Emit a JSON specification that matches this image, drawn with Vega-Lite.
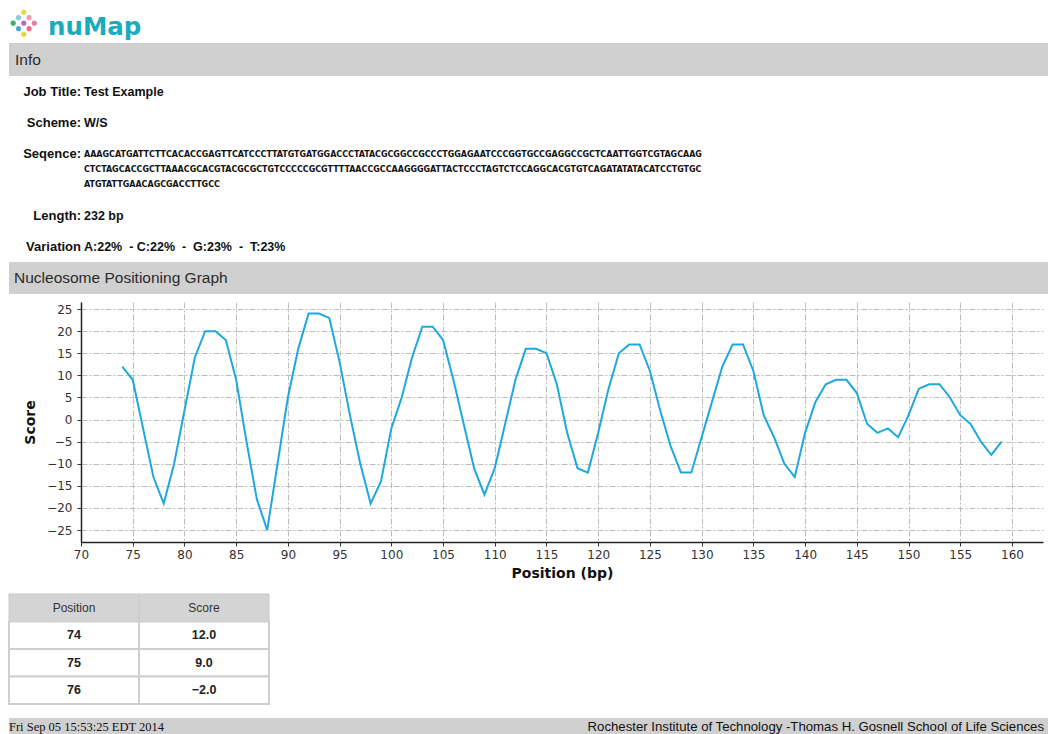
{
  "$schema": "https://vega.github.io/schema/vega-lite/v6.json",
  "background": "white",
  "padding": {"left": 8, "top": 0, "right": 0, "bottom": 0},
  "config": {"view": {"stroke": null}, "font": "Liberation Sans"},
  "datasets": {
    "nps": [
      {"position": 74, "score": 12}, {"position": 75, "score": 9}, {"position": 76, "score": -2},
      {"position": 77, "score": -13}, {"position": 78, "score": -19}, {"position": 79, "score": -10},
      {"position": 80, "score": 2}, {"position": 81, "score": 14}, {"position": 82, "score": 20},
      {"position": 83, "score": 20}, {"position": 84, "score": 18}, {"position": 85, "score": 9},
      {"position": 86, "score": -5}, {"position": 87, "score": -18}, {"position": 88, "score": -25},
      {"position": 89, "score": -10}, {"position": 90, "score": 5}, {"position": 91, "score": 16},
      {"position": 92, "score": 24}, {"position": 93, "score": 24}, {"position": 94, "score": 23},
      {"position": 95, "score": 13}, {"position": 96, "score": 1}, {"position": 97, "score": -10},
      {"position": 98, "score": -19}, {"position": 99, "score": -14}, {"position": 100, "score": -2},
      {"position": 101, "score": 5}, {"position": 102, "score": 14}, {"position": 103, "score": 21},
      {"position": 104, "score": 21}, {"position": 105, "score": 18}, {"position": 106, "score": 9},
      {"position": 107, "score": -1}, {"position": 108, "score": -11}, {"position": 109, "score": -17},
      {"position": 110, "score": -11}, {"position": 111, "score": -1}, {"position": 112, "score": 9},
      {"position": 113, "score": 16}, {"position": 114, "score": 16}, {"position": 115, "score": 15},
      {"position": 116, "score": 8}, {"position": 117, "score": -3}, {"position": 118, "score": -11},
      {"position": 119, "score": -12}, {"position": 120, "score": -3}, {"position": 121, "score": 7},
      {"position": 122, "score": 15}, {"position": 123, "score": 17}, {"position": 124, "score": 17},
      {"position": 125, "score": 11}, {"position": 126, "score": 2}, {"position": 127, "score": -6},
      {"position": 128, "score": -12}, {"position": 129, "score": -12}, {"position": 130, "score": -4},
      {"position": 131, "score": 4}, {"position": 132, "score": 12}, {"position": 133, "score": 17},
      {"position": 134, "score": 17}, {"position": 135, "score": 11}, {"position": 136, "score": 1},
      {"position": 137, "score": -4}, {"position": 138, "score": -10}, {"position": 139, "score": -13},
      {"position": 140, "score": -3}, {"position": 141, "score": 4}, {"position": 142, "score": 8},
      {"position": 143, "score": 9}, {"position": 144, "score": 9}, {"position": 145, "score": 6},
      {"position": 146, "score": -1}, {"position": 147, "score": -3}, {"position": 148, "score": -2},
      {"position": 149, "score": -4}, {"position": 150, "score": 1}, {"position": 151, "score": 7},
      {"position": 152, "score": 8}, {"position": 153, "score": 8}, {"position": 154, "score": 5},
      {"position": 155, "score": 1}, {"position": 156, "score": -1}, {"position": 157, "score": -5},
      {"position": 158, "score": -8}, {"position": 159, "score": -5}
    ],
    "dots": [
      {"col": 2, "row": 0, "k": "a"}, {"col": 1, "row": 1, "k": "b"}, {"col": 3, "row": 1, "k": "c"},
      {"col": 0, "row": 2, "k": "d"}, {"col": 2, "row": 2, "k": "e"}, {"col": 4, "row": 2, "k": "f"},
      {"col": 1, "row": 3, "k": "g"}, {"col": 3, "row": 3, "k": "h"}, {"col": 2, "row": 4, "k": "i"}
    ],
    "info": [
      {"label": "Job Title:", "value": "Test Example"},
      {"label": "Scheme:", "value": "W/S"},
      {"label": "Seqence:", "value": "AAAGCATGATTCTTCACACCGAGTTCATCCCTTATGTGATGGACCCTATACGCGGCCGCCCTGGAGAATCCCGGTGCCGAGGCCGCTCAATTGGTCGTAGCAAG\nCTCTAGCACCGCTTAAACGCACGTACGCGCTGTCCCCCGCGTTTTAACCGCCAAGGGGATTACTCCCTAGTCTCCAGGCACGTGTCAGATATATACATCCTGTGC\nATGTATTGAACAGCGACCTTGCC"},
      {"label": "Length:", "value": "232 bp"},
      {"label": "Variation", "value": "A:22%\u00a0\u00a0- C:22%\u00a0\u00a0-\u00a0\u00a0G:23%\u00a0\u00a0-\u00a0\u00a0T:23%"}
    ]
  },
  "columns": 1,
  "align": "none",
  "spacing": 8,
  "concat": [
    {
      "columns": 1,
      "align": "none",
      "spacing": 0,
      "concat": [
        {
          "spacing": 11,
          "hconcat": [
            {
              "width": 28, "height": 43,
              "data": {"name": "dots"},
              "mark": {"type": "circle", "size": 26, "opacity": 1},
              "encoding": {
                "x": {"field": "col", "type": "quantitative", "scale": {"domain": [-0.8, 4.5], "nice": false, "zero": false}, "axis": null},
                "y": {"field": "row", "type": "quantitative", "scale": {"domain": [-2.2, 5.6], "nice": false, "zero": false, "reverse": true}, "axis": null},
                "color": {"field": "k", "type": "nominal", "legend": null,
                  "scale": {"domain": ["a","b","c","d","e","f","g","h","i"],
                            "range": ["#e4dd3f","#86cde0","#f39bb0","#35b36e","#b46cc0","#f07c9a","#4aa8de","#ef6d8c","#e8d63a"]}}
              }
            },
            {
              "width": 110, "height": 43,
              "data": {"values": [{"t": "nuMap"}]},
              "mark": {"type": "text", "align": "left", "baseline": "alphabetic", "dy": 13, "font": "DejaVu Sans", "fontWeight": "bold", "fontSize": 24.5, "color": "#1aacbd"},
              "encoding": {
                "text": {"field": "t"},
                "x": {"datum": 0, "scale": {"domain": [0, 1]}, "axis": null}
              }
            }
          ]
        },
        {
          "width": 1040, "height": 33,
          "view": {"fill": "#d0d0d0", "stroke": null},
          "data": {"values": [{"t": "Info"}]},
          "mark": {"type": "text", "align": "left", "baseline": "middle", "dx": 6, "fontSize": 15.5, "color": "#2a2a2a"},
          "encoding": {
            "text": {"field": "t"},
            "x": {"datum": 0, "scale": {"domain": [0, 1]}, "axis": null}
          }
        },
        {
          "width": 1040, "height": 186,
          "data": {"name": "info"},
          "encoding": {
            "x": {"datum": 0, "scale": {"domain": [0, 1]}, "axis": null},
            "y": {"field": "label", "type": "nominal",
              "scale": {"type": "point", "domain": ["Job Title:", "Scheme:", "Seqence:", " ", "Length:", "Variation"]},
              "axis": null}
          },
          "layer": [
            {
              "mark": {"type": "text", "align": "right", "baseline": "middle", "dx": 72, "fontSize": 13, "fontWeight": "bold", "color": "#111"},
              "encoding": {"text": {"field": "label"}}
            },
            {
              "transform": [{"filter": "datum.label != 'Seqence:'"}],
              "mark": {"type": "text", "align": "left", "baseline": "middle", "dx": 75, "fontSize": 12.5, "fontWeight": "bold", "color": "#111"},
              "encoding": {"text": {"field": "value"}}
            },
            {
              "transform": [{"filter": "datum.label == 'Seqence:'"}],
              "mark": {"type": "text", "align": "left", "baseline": "top", "dx": 75, "dy": -4, "lineBreak": "\n", "lineHeight": 15,
                       "font": "DejaVu Sans Condensed", "fontSize": 8.9, "fontWeight": "bold", "color": "#111"},
              "encoding": {"text": {"field": "value"}}
            }
          ]
        },
        {
          "width": 1040, "height": 32,
          "view": {"fill": "#d0d0d0", "stroke": null},
          "data": {"values": [{"t": "Nucleosome Positioning Graph"}]},
          "mark": {"type": "text", "align": "left", "baseline": "middle", "dx": 5, "fontSize": 15.5, "color": "#2a2a2a"},
          "encoding": {
            "text": {"field": "t"},
            "x": {"datum": 0, "scale": {"domain": [0, 1]}, "axis": null}
          }
        }
      ]
    },
    {
      "columns": 1,
      "align": "none",
      "spacing": 13,
      "concat": [
        {
          "spacing": 0,
          "hconcat": [
            {
              "width": 14, "height": 1,
              "data": {"values": [{}]},
              "mark": {"type": "text", "text": "", "fontSize": 1, "baseline": "top"},
              "encoding": {}
            },
            {
              "width": 962, "height": 240,
              "data": {"name": "nps"},
              "mark": {"type": "line", "color": "#1fa8e0", "strokeWidth": 2},
              "encoding": {
                "x": {"field": "position", "type": "quantitative",
                  "scale": {"domain": [70, 163], "nice": false, "zero": false},
                  "axis": {"values": [70,75,80,85,90,95,100,105,110,115,120,125,130,135,140,145,150,155,160],
                           "title": "Position (bp)", "titleFont": "DejaVu Sans", "titleFontSize": 14, "titleFontWeight": "bold", "titleColor": "#111", "titlePadding": 6,
                           "labelFont": "DejaVu Sans", "labelFontSize": 12, "labelColor": "#333", "labelPadding": 3, "labelFlush": false,
                           "tickSize": 4, "tickColor": "#333", "domainColor": "#222", "domainWidth": 1.5,
                           "grid": true, "gridColor": "#bdbdbd", "gridDash": [6, 2, 2, 2], "gridWidth": 1}},
                "y": {"field": "score", "type": "quantitative",
                  "scale": {"domain": [-27.7, 26.6], "nice": false, "zero": false},
                  "axis": {"values": [-25,-20,-15,-10,-5,0,5,10,15,20,25],
                           "title": "Score", "titleFont": "DejaVu Sans", "titleFontSize": 14, "titleFontWeight": "bold", "titleColor": "#111", "titlePadding": 9,
                           "labelFont": "DejaVu Sans", "labelFontSize": 12, "labelColor": "#333", "labelPadding": 5,
                           "tickSize": 4, "tickColor": "#333", "domainColor": "#222", "domainWidth": 1.5,
                           "grid": true, "gridColor": "#bdbdbd", "gridDash": [6, 2, 2, 2], "gridWidth": 1}}
              }
            }
          ]
        },
        {
          "width": 260, "height": 110,
          "encoding": {
            "y": {"field": "position", "type": "ordinal",
              "scale": {"type": "band", "domain": ["hdr", 74, 75, 76], "paddingInner": 0, "paddingOuter": 0}, "axis": null}
          },
          "layer": [
            {
              "data": {"values": [{"position": "hdr", "k": "position", "t": "Position"}, {"position": "hdr", "k": "score", "t": "Score"}]},
              "mark": {"type": "rect", "fill": "#d4d4d4", "stroke": "#c8c8c8", "strokeWidth": 1},
              "encoding": {
                "x": {"field": "k", "type": "nominal", "scale": {"type": "band", "domain": ["position", "score"], "paddingInner": 0, "paddingOuter": 0}, "axis": null}
              }
            },
            {
              "data": {"values": [{"position": "hdr", "k": "position", "t": "Position"}, {"position": "hdr", "k": "score", "t": "Score"}]},
              "mark": {"type": "text", "fontSize": 12, "color": "#333"},
              "encoding": {
                "x": {"field": "k", "type": "nominal"},
                "text": {"field": "t"}
              }
            },
            {
              "data": {"name": "nps"},
              "transform": [{"filter": "datum.position <= 76"}, {"fold": ["position", "score"], "as": ["k", "v"]}],
              "mark": {"type": "rect", "fill": "white", "stroke": "#cfcfcf", "strokeWidth": 2},
              "encoding": {
                "x": {"field": "k", "type": "nominal"}
              }
            },
            {
              "data": {"name": "nps"},
              "transform": [{"filter": "datum.position <= 76"}],
              "mark": {"type": "text", "fontSize": 12.5, "fontWeight": "bold", "color": "#222"},
              "encoding": {
                "x": {"datum": "position"},
                "text": {"field": "position", "type": "quantitative", "format": "d"}
              }
            },
            {
              "data": {"name": "nps"},
              "transform": [{"filter": "datum.position <= 76"}],
              "mark": {"type": "text", "fontSize": 12.5, "fontWeight": "bold", "color": "#222"},
              "encoding": {
                "x": {"datum": "score"},
                "text": {"field": "score", "type": "quantitative", "format": ".1f"}
              }
            }
          ]
        },
        {
          "width": 1040, "height": 17,
          "view": {"fill": "#d0d0d0", "stroke": null},
          "layer": [
            {
              "data": {"values": [{"t": "Fri Sep 05 15:53:25 EDT 2014"}]},
              "mark": {"type": "text", "align": "left", "baseline": "middle", "dx": 0, "font": "Liberation Serif", "fontSize": 12.5, "color": "#111"},
              "encoding": {
                "text": {"field": "t"},
                "x": {"datum": 0, "scale": {"domain": [0, 1]}, "axis": null}
              }
            },
            {
              "data": {"values": [{"t": "Rochester Institute of Technology -Thomas H. Gosnell School of Life Sciences"}]},
              "mark": {"type": "text", "align": "right", "baseline": "middle", "dx": -5, "fontSize": 13.2, "color": "#111"},
              "encoding": {
                "text": {"field": "t"},
                "x": {"datum": 1}
              }
            }
          ]
        }
      ]
    }
  ]
}
